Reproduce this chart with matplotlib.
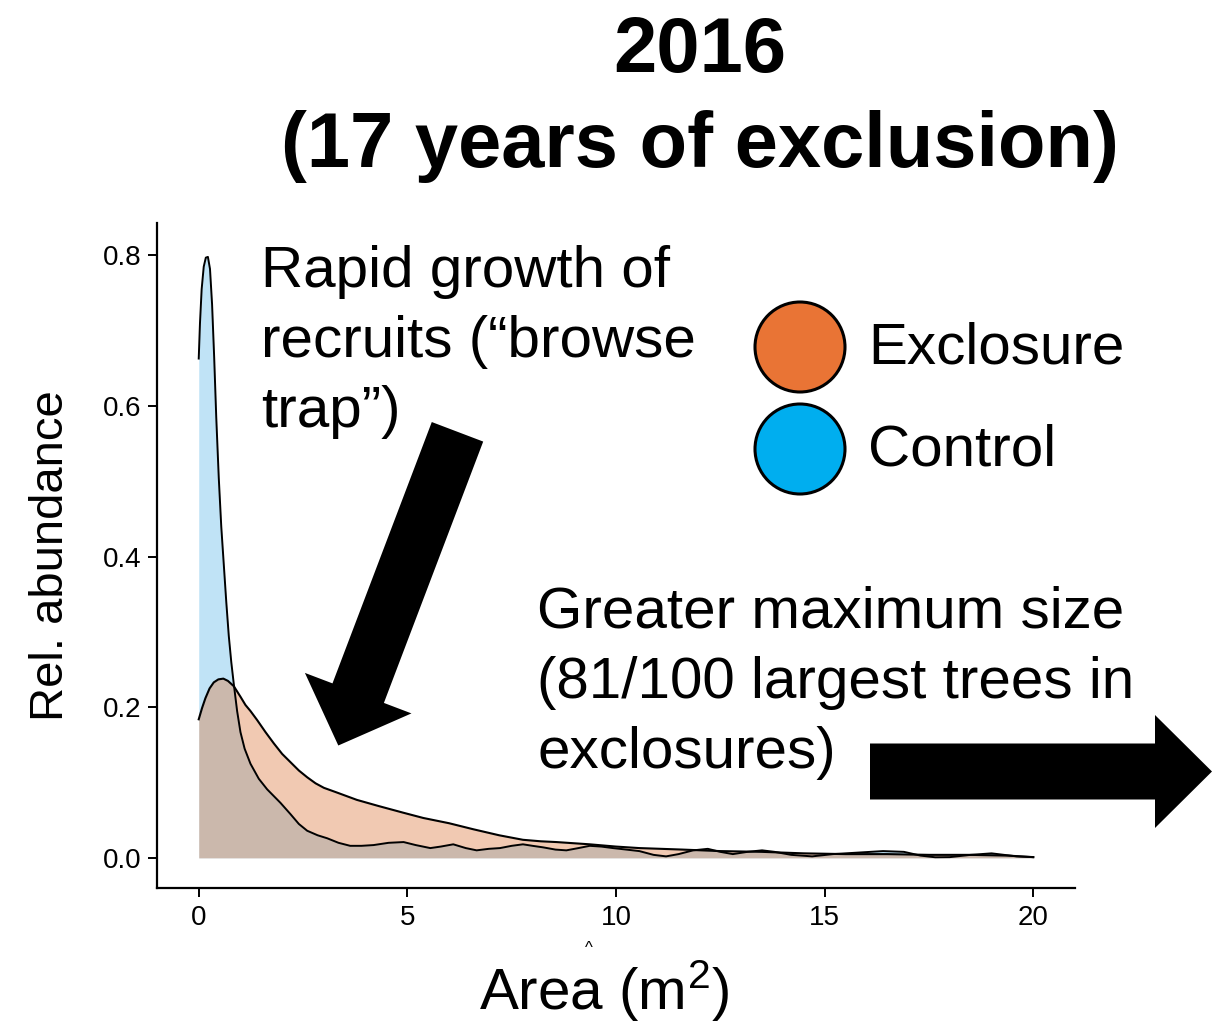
import matplotlib
matplotlib.use('Agg')
import matplotlib.pyplot as plt
import matplotlib.patches as mpatches

plt.rcParams['font.family'] = ['Liberation Sans', 'DejaVu Sans']
plt.rcParams['mathtext.fontset'] = 'custom'
plt.rcParams['mathtext.rm'] = 'Liberation Sans'

# density curves (area in m2 vs relative abundance)
control_x = [0, 0.03, 0.07, 0.12, 0.17, 0.22, 0.27, 0.32, 0.37, 0.42, 0.48, 0.54,
             0.6, 0.66, 0.72, 0.78, 0.84, 0.92, 1.0, 1.1, 1.24, 1.44, 1.64, 1.8,
             1.96, 2.2, 2.4, 2.6, 2.85, 3.08, 3.35, 3.63, 3.9, 4.19, 4.55, 4.91,
             5.2, 5.55, 5.8, 6.1, 6.4, 6.66, 6.95, 7.22, 7.5, 7.77, 8.0, 8.25,
             8.55, 8.81, 9.1, 9.37, 9.65, 9.93, 10.25, 10.56, 10.9, 11.2, 11.5,
             11.85, 12.2, 12.5, 12.8, 13.15, 13.5, 13.8, 14.2, 14.7, 15.2, 15.8,
             16.4, 16.9, 17.3, 17.65, 18.0, 18.5, 19.0, 19.3, 19.6, 20.0]
control_y = [0.663, 0.71, 0.755, 0.785, 0.797, 0.798, 0.782, 0.735, 0.665, 0.585,
             0.505, 0.44, 0.39, 0.34, 0.295, 0.26, 0.231, 0.195, 0.167, 0.145,
             0.125, 0.105, 0.091, 0.082, 0.073, 0.058, 0.045, 0.036, 0.030, 0.026,
             0.020, 0.016, 0.016, 0.017, 0.020, 0.021, 0.017, 0.013, 0.015, 0.018,
             0.013, 0.010, 0.012, 0.013, 0.016, 0.018, 0.016, 0.014, 0.011, 0.010,
             0.013, 0.016, 0.015, 0.013, 0.011, 0.009, 0.004, 0.002, 0.005, 0.010,
             0.012, 0.008, 0.005, 0.008, 0.010, 0.008, 0.004, 0.002, 0.005, 0.007,
             0.009, 0.008, 0.003, 0.0008, 0.001, 0.004, 0.006, 0.004, 0.002, 0.001]

exclosure_x = [0, 0.08, 0.16, 0.26, 0.36, 0.47, 0.59, 0.7, 0.84, 1.0, 1.12, 1.24,
               1.4, 1.6, 1.8, 2.0, 2.2, 2.4, 2.6, 2.8, 3.0, 3.3, 3.79, 4.3, 4.9,
               5.38, 6.0, 6.58, 7.2, 7.77, 8.2, 8.57, 9.37, 10.0, 10.56, 11.6, 12.5,
               13.5, 14.5, 15.5, 16.5, 17.5, 18.5, 19.4, 20.0]
exclosure_y = [0.184, 0.199, 0.212, 0.225, 0.233, 0.237, 0.238, 0.235, 0.228, 0.214,
               0.203, 0.195, 0.183, 0.167, 0.152, 0.138, 0.127, 0.116, 0.107, 0.099,
               0.093, 0.087, 0.077, 0.069, 0.060, 0.053, 0.046, 0.038, 0.030, 0.024,
               0.022, 0.021, 0.018, 0.015, 0.013, 0.011, 0.009, 0.008, 0.006, 0.005,
               0.005, 0.004, 0.004, 0.003, 0.001]

x_ticks = [0, 5, 10, 15, 20]
y_ticks = [0.0, 0.2, 0.4, 0.6, 0.8]
y_labels = ['0.0', '0.2', '0.4', '0.6', '0.8']

title_lines = ['2016', '(17 years of exclusion)']
note1_lines = ['Rapid growth of', 'recruits (\u201cbrowse', 'trap\u201d)']
note2_lines = ['Greater maximum size', '(81/100 largest trees in', 'exclosures)']
groups = ['Exclosure', 'Control']
group_colors = ['#E97435', '#00AEEF']

fig = plt.figure(figsize=(12.3, 10.23), dpi=100)
ax = fig.add_axes([157 / 1230, 1 - 888 / 1023, 918 / 1230, 665 / 1023])

ax.fill_between(control_x, 0, control_y, color='#56B4E9', alpha=0.37, lw=0)
ax.plot(control_x, control_y, color='black', lw=1.4, solid_joinstyle='round')
ax.fill_between(exclosure_x, 0, exclosure_y, color='#DC783F', alpha=0.40, lw=0)
ax.plot(exclosure_x, exclosure_y, color='black', lw=1.5, solid_joinstyle='round')

ax.set_xlim(-1, 21)
ax.set_ylim(-0.04, 0.843)
ax.set_xticks(x_ticks)
ax.set_yticks(y_ticks)
ax.set_yticklabels(y_labels)
ax.tick_params(labelsize=20, length=6.5, width=1.4, color='black', labelcolor='black')
ax.tick_params(axis='x', pad=6)
ax.tick_params(axis='y', pad=5)
for s in ['top', 'right']:
    ax.spines[s].set_visible(False)
for s in ['left', 'bottom']:
    ax.spines[s].set_linewidth(1.6)

# overlay in pixel coordinates for the slide-style annotations
ov = fig.add_axes([0, 0, 1, 1])
ov.set_xlim(0, 1230)
ov.set_ylim(1023, 0)
ov.axis('off')
ov.patch.set_alpha(0)

for i, line in enumerate(title_lines):
    ov.text(700, 72 + 95 * i, line, fontsize=56, fontweight='bold',
            ha='center', va='baseline')
for i, line in enumerate(note1_lines):
    ov.text(261, 287 + 70 * i, line, fontsize=42, ha='left', va='baseline')
for i, line in enumerate(note2_lines):
    ov.text(537, 627 + 70.5 * i, line, fontsize=42, ha='left', va='baseline')

for i, (g, c) in enumerate(zip(groups, group_colors)):
    cy = 347 + 102 * i
    ov.add_patch(mpatches.Circle((800, cy), 45, facecolor=c, edgecolor='black', lw=2.2))
    ov.text(868, cy + 17, g, fontsize=42, ha='left', va='baseline')

ov.add_patch(mpatches.FancyArrow(457.5, 431.8, -119.2, 313.7, width=55,
                                 head_width=114, head_length=56,
                                 length_includes_head=True, color='black', lw=0))
ov.add_patch(mpatches.FancyArrow(870, 771.5, 342, 0, width=56, head_width=113,
                                 head_length=57, length_includes_head=True,
                                 color='black', lw=0))

ov.text(63, 556, 'Rel. abundance', fontsize=34, rotation=90, rotation_mode='anchor',
        ha='center', va='baseline')
ov.text(604, 1010, r'Area (m$\mathregular{^2}$)', fontsize=42, ha='center', va='baseline')
ov.text(589, 953, '^', fontsize=12, ha='center', va='baseline')

fig.savefig('out.png', dpi=100)
